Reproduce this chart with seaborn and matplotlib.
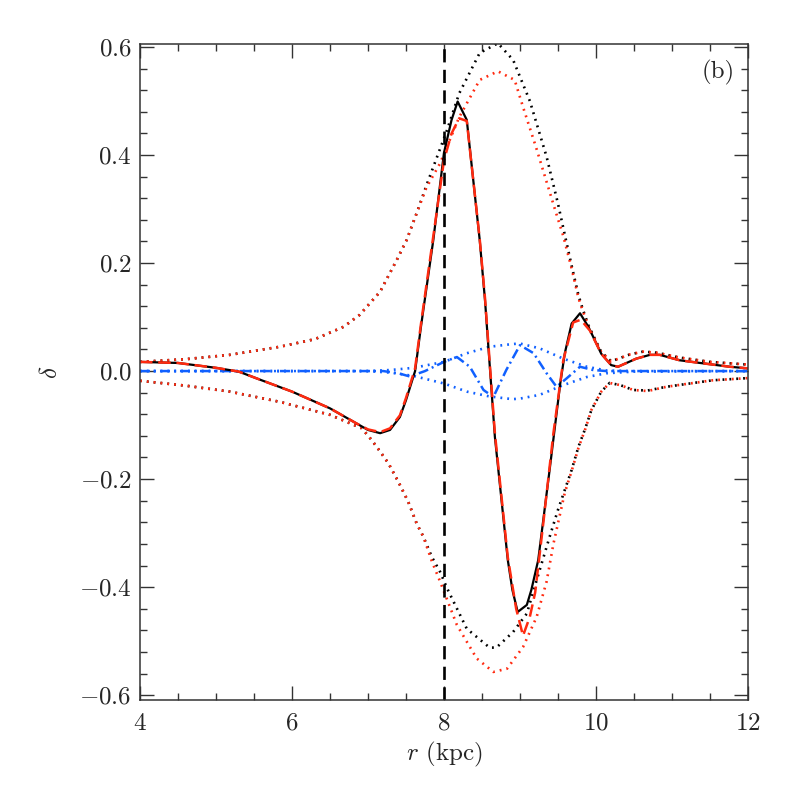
import matplotlib
matplotlib.use("Agg")
import matplotlib.pyplot as plt
import seaborn as sns
from matplotlib.ticker import MultipleLocator

# total perturbation (black solid)
r_tot = [4.0, 4.5, 5.0, 5.3, 5.6, 6.0, 6.5, 6.85, 7.0, 7.16, 7.29, 7.42, 7.5, 7.62, 7.7,
         7.86, 8.0, 8.1, 8.18, 8.3, 8.47, 8.54, 8.67, 8.84, 8.9, 8.97, 9.09, 9.15,
         9.24, 9.39, 9.53, 9.59, 9.68, 9.79, 9.9, 10.07, 10.2, 10.29, 10.53, 10.71,
         10.84, 11.1, 11.37, 11.76, 12.0]
d_tot = [0.017, 0.015, 0.006, -0.001, -0.017, -0.038, -0.069, -0.097, -0.109, -0.115,
         -0.109, -0.085, -0.054, 0.0, 0.085, 0.243, 0.404, 0.465, 0.499, 0.465, 0.243,
         0.131, -0.122, -0.35, -0.405, -0.446, -0.433, -0.405, -0.35, -0.183, -0.023,
         0.033, 0.088, 0.107, 0.082, 0.032, 0.011, 0.008, 0.023, 0.030, 0.030, 0.020,
         0.015, 0.008, 0.005]

# model (red dashed)
r_mod = [4.0, 4.5, 5.0, 5.3, 5.6, 6.0, 6.5, 6.85, 7.0, 7.16, 7.29, 7.42, 7.5, 7.62, 7.7,
         7.86, 8.0, 8.1, 8.2, 8.3, 8.47, 8.54, 8.67, 8.84, 8.95, 9.04, 9.13, 9.2,
         9.3, 9.44, 9.57, 9.7, 9.8, 9.92, 10.07, 10.2, 10.29, 10.53, 10.71,
         10.84, 11.1, 11.37, 11.76, 12.0]
d_mod = [0.017, 0.015, 0.006, -0.001, -0.017, -0.038, -0.069, -0.097, -0.108, -0.113,
         -0.106, -0.082, -0.05, 0.005, 0.09, 0.25, 0.39, 0.44, 0.468, 0.463, 0.245,
         0.135, -0.115, -0.345, -0.44, -0.49, -0.455, -0.41, -0.29, -0.115, 0.02,
         0.09, 0.095, 0.075, 0.032, 0.011, 0.008, 0.023, 0.030, 0.030, 0.020,
         0.015, 0.008, 0.005]

# envelopes (black dotted)
r_env_hi = [4.0, 4.6, 5.18, 5.84, 6.3, 6.68, 6.89, 7.16, 7.38, 7.51, 7.64, 7.77, 8.04,
            8.2, 8.47, 8.71, 8.91, 9.13, 9.35, 9.5, 9.59, 9.68, 9.77, 9.83, 9.9, 10.07,
            10.2, 10.45, 10.62, 10.8, 11.1, 11.5, 12.0]
d_env_hi = [0.017, 0.022, 0.030, 0.045, 0.059, 0.082, 0.104, 0.147, 0.206, 0.243,
            0.292, 0.344, 0.446, 0.514, 0.589, 0.607, 0.576, 0.50, 0.397, 0.31, 0.252,
            0.195, 0.14, 0.113, 0.085, 0.035, 0.018, 0.031, 0.036, 0.034, 0.025,
            0.017, 0.012]
r_env_lo = [4.0, 4.6, 5.18, 5.84, 6.5, 6.92, 7.05, 7.16, 7.27, 7.4, 7.53, 7.64, 7.73,
            7.84, 7.95, 8.04, 8.3, 8.6, 8.69, 8.91, 9.09, 9.26, 9.39, 9.5, 9.59, 9.68,
            9.77, 9.86, 9.94, 10.07, 10.18, 10.32, 10.49, 10.68, 10.93, 11.54, 12.0]
d_env_lo = [-0.018, -0.027, -0.038, -0.057, -0.081, -0.106, -0.128, -0.149, -0.171,
            -0.205, -0.242, -0.282, -0.307, -0.344, -0.372, -0.402, -0.477, -0.512,
            -0.512, -0.483, -0.449, -0.368, -0.307, -0.257, -0.22, -0.183, -0.14,
            -0.106, -0.072, -0.038, -0.022, -0.026, -0.035, -0.036, -0.029, -0.017,
            -0.013]

# model envelopes (red dotted)
r_menv_hi = [4.0, 4.6, 5.18, 5.84, 6.3, 6.68, 6.89, 7.16, 7.38, 7.51, 7.64, 7.77, 7.95,
             8.2, 8.47, 8.71, 8.93, 9.04, 9.21, 9.47, 9.57, 9.68, 9.77, 9.83, 9.9,
             10.07, 10.2, 10.45, 10.62, 10.8, 11.1, 11.5, 12.0]
d_menv_hi = [0.017, 0.022, 0.030, 0.045, 0.059, 0.082, 0.104, 0.147, 0.206, 0.243,
             0.292, 0.340, 0.385, 0.47, 0.539, 0.555, 0.539, 0.489, 0.415, 0.295,
             0.25, 0.19, 0.135, 0.11, 0.083, 0.035, 0.018, 0.031, 0.036, 0.034,
             0.025, 0.017, 0.012]
r_menv_lo = [4.0, 4.6, 5.18, 5.84, 6.5, 6.92, 7.05, 7.16, 7.27, 7.4, 7.53, 7.64, 7.73,
             7.84, 7.95, 8.17, 8.43, 8.65, 8.83, 9.04, 9.22, 9.35, 9.44, 9.59, 9.68,
             9.77, 9.86, 9.94, 10.07, 10.18, 10.32, 10.49, 10.68, 10.93, 11.54, 12.0]
d_menv_lo = [-0.018, -0.027, -0.038, -0.057, -0.081, -0.106, -0.128, -0.149, -0.171,
             -0.205, -0.242, -0.282, -0.307, -0.352, -0.39, -0.47, -0.532, -0.557,
             -0.551, -0.511, -0.455, -0.39, -0.32, -0.225, -0.185, -0.142, -0.107,
             -0.072, -0.038, -0.022, -0.026, -0.035, -0.037, -0.029, -0.017, -0.013]

# small component (blue)
r_blue = [4.0, 7.0, 7.3, 7.6, 8.0, 8.3, 8.6, 8.9, 9.0, 9.26, 9.57, 9.88, 10.14, 10.5, 12.0]
d_blue_hi = [0.0, 0.0, 0.002, 0.006, 0.017, 0.033, 0.045, 0.050, 0.051, 0.042, 0.023,
             0.008, 0.001, 0.0, 0.0]
d_blue_lo = [0.0, 0.0, -0.003, -0.009, -0.023, -0.038, -0.047, -0.052, -0.051, -0.044,
             -0.026, -0.011, -0.004, -0.001, 0.0]
r_osc = [4.0, 7.2, 7.4, 7.55, 7.75, 8.0, 8.17, 8.34, 8.52, 8.65, 8.82, 9.0, 9.18, 9.35,
         9.48, 9.61, 9.79, 9.96, 10.14, 12.0]
d_osc = [0.0, 0.0, -0.004, -0.01, 0.0, 0.017, 0.026, 0.008, -0.035, -0.048, 0.002,
         0.048, 0.033, -0.004, -0.029, -0.014, 0.008, 0.002, 0.0, 0.0]

r_sun = 8.0

RED = "#ff2a10"
BLUE = "#1060ff"

sns.set_style("ticks")
plt.rcParams["font.family"] = ["cmr10", "DejaVu Serif"]
plt.rcParams["mathtext.fontset"] = "cm"
plt.rcParams["axes.formatter.use_mathtext"] = True

fig = plt.figure(figsize=(7.89, 7.89), dpi=100)
ax = fig.add_axes([0.1774, 0.1128, 0.7706, 0.8314])

dot = (0, (0.7, 1.9))
lw_dot = 1.9
sns.lineplot(x=r_env_hi, y=d_env_hi, ax=ax, color="black", lw=lw_dot, linestyle=dot, sort=False)
sns.lineplot(x=r_env_lo, y=d_env_lo, ax=ax, color="black", lw=lw_dot, linestyle=dot, sort=False)
sns.lineplot(x=r_menv_hi, y=d_menv_hi, ax=ax, color=RED, lw=lw_dot, linestyle=dot, sort=False)
sns.lineplot(x=r_menv_lo, y=d_menv_lo, ax=ax, color=RED, lw=lw_dot, linestyle=dot, sort=False)
sns.lineplot(x=r_blue, y=d_blue_hi, ax=ax, color=BLUE, lw=lw_dot, linestyle=dot, sort=False)
sns.lineplot(x=r_blue, y=d_blue_lo, ax=ax, color=BLUE, lw=lw_dot, linestyle=dot, sort=False)
sns.lineplot(x=r_osc, y=d_osc, ax=ax, color=BLUE, lw=1.8, linestyle=(0, (4, 1.6, 0.8, 1.6)), sort=False)
sns.lineplot(x=r_tot, y=d_tot, ax=ax, color="black", lw=1.6, sort=False)
sns.lineplot(x=r_mod, y=d_mod, ax=ax, color=RED, lw=1.8, linestyle=(0, (5, 2.3)), sort=False)

ax.axvline(r_sun, color="black", lw=1.9, linestyle=(0, (5, 2.8)))

ax.set_xlim(4, 12)
ax.set_ylim(-0.609, 0.6055)
ax.xaxis.set_major_locator(MultipleLocator(2))
ax.xaxis.set_minor_locator(MultipleLocator(0.5))
ax.yaxis.set_major_locator(MultipleLocator(0.2))
ax.yaxis.set_minor_locator(MultipleLocator(0.04))
ax.tick_params(which="both", direction="in", top=True, right=True, width=1, color="#333333")
ax.tick_params(which="major", length=10, labelsize=18)
ax.tick_params(axis="x", which="major", pad=9)
ax.tick_params(axis="y", which="major", pad=6)
ax.tick_params(which="minor", length=5)
for s in ax.spines.values():
    s.set_linewidth(1.1)
    s.set_color("#333333")

ax.set_xlabel(r"$r$ (kpc)", fontsize=18, labelpad=4)
ax.set_ylabel(r"$\delta$", fontsize=18, labelpad=12)
ax.text(0.979, 0.957, "(b)", transform=ax.transAxes, ha="right", va="center", fontsize=18)

fig.savefig("out.png", dpi=100)
